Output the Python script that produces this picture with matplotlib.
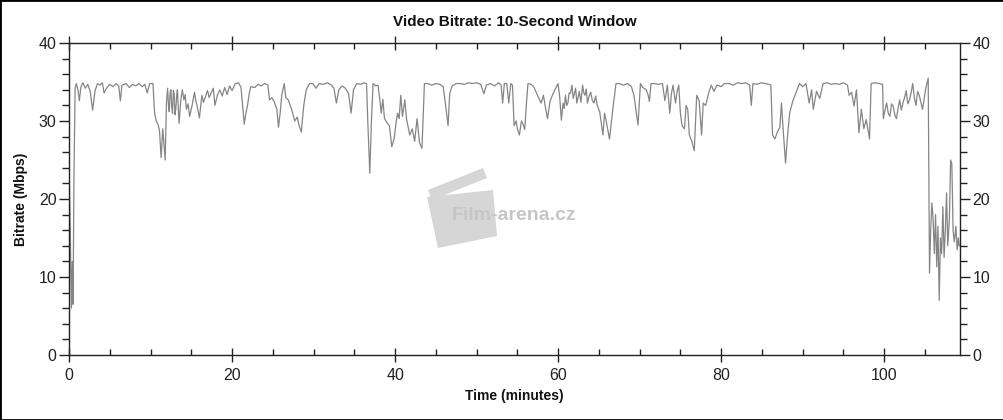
import matplotlib.pyplot as plt
from matplotlib.patches import Polygon, Rectangle
from matplotlib.ticker import MultipleLocator

plt.rcParams['font.family'] = ['Liberation Sans', 'DejaVu Sans']

title = 'Video Bitrate: 10-Second Window'
x_label = 'Time (minutes)'
y_label = 'Bitrate (Mbps)'
x_ticks = [0, 20, 40, 60, 80, 100]
y_ticks = [0, 10, 20, 30, 40]

# readings, minutes / Mbps
time_min = [
    0.0, 0.15, 0.3, 0.4, 0.5, 0.6, 0.75, 0.9,
    1.1, 1.27, 1.45, 1.7, 2.0, 2.3, 2.6, 2.9, 3.2, 3.5, 3.8, 4.1, 4.3, 4.6, 5.0, 5.4, 5.8, 6.1,
    6.3, 6.5, 7.0, 7.4, 7.8, 8.2, 8.6, 9.0, 9.3, 9.6, 9.9, 10.3,
    10.5, 10.7, 10.9, 11.1, 11.3, 11.5, 11.65, 11.8, 11.95, 12.1, 12.2, 12.3, 12.4, 12.5, 12.6,
    12.7, 12.8, 12.9, 13.0, 13.1, 13.2, 13.3, 13.5, 13.7, 13.9, 14.1, 14.25, 14.4, 14.6, 14.8,
    15.1, 15.4, 15.55, 15.7, 15.85, 16.0, 16.3, 16.5, 16.7, 17.0, 17.2, 17.4, 17.7, 17.9, 18.2,
    18.5, 18.8, 19.1, 19.4, 19.7, 20.0, 20.4, 20.8, 21.1, 21.3, 21.5, 21.7, 21.9, 22.1, 22.3,
    22.8, 23.2, 23.6, 24.0, 24.4, 24.6, 24.9, 25.2, 25.5, 25.7, 25.9, 26.1, 26.4, 26.6, 26.9,
    27.3, 27.7, 28.0, 28.2, 28.5, 28.8, 29.1, 29.5, 29.9, 30.3, 30.7, 31.2, 31.7, 32.2, 32.5,
    32.8, 33.1, 33.5, 33.9, 34.3, 34.6, 34.9, 35.3, 35.8, 36.2, 36.5,
    36.65, 36.9, 37.1, 37.3, 37.6, 37.9, 38.1, 38.3, 38.5, 38.7, 39.0, 39.3, 39.6, 39.9, 40.1,
    40.3, 40.5, 40.7, 40.9, 41.2, 41.4, 41.8, 42.1, 42.4, 42.7, 43.0, 43.3, 43.6, 44.0, 44.5,
    45.0, 45.5, 45.9, 46.2, 46.5, 46.7, 47.0, 47.5, 48.0, 48.5, 49.0, 49.5, 50.0, 50.5, 50.9,
    51.2, 51.7, 52.2, 52.7, 53.0, 53.2, 53.4, 53.7, 53.95, 54.2, 54.4, 54.6,
    54.85, 55.0, 55.25, 55.5, 55.7, 55.9, 56.1, 56.3, 56.7, 57.0, 57.3, 57.6, 57.9, 58.2, 58.4,
    58.7, 59.0, 59.3, 59.6, 60.0, 60.2, 60.4, 60.6, 60.75, 60.9, 61.05, 61.2, 61.35, 61.5, 61.7,
    61.85, 62.0, 62.15, 62.3, 62.45, 62.6, 62.8, 63.0, 63.15, 63.3, 63.45, 63.6, 63.8, 64.0,
    64.2, 64.4, 64.6, 64.8, 65.1, 65.5, 65.7, 66.0, 66.3, 66.6, 66.8, 67.1, 67.5,
    68.0, 68.5, 69.0, 69.3, 69.6, 69.8, 70.1, 70.4, 70.8, 71.0, 71.2, 71.4, 71.8, 72.3, 72.8,
    73.1,
    73.4, 73.7, 73.9, 74.1, 74.4, 74.6, 74.8, 75.0, 75.2, 75.5, 75.7, 75.9, 76.1, 76.4, 76.7,
    77.0, 77.3, 77.6, 77.8, 78.1, 78.5, 78.8, 79.1, 79.5, 80.0, 80.4, 81.0, 81.5, 82.0, 82.5,
    83.0, 83.5, 83.7, 83.9, 84.4, 84.9, 85.4, 85.9, 86.1, 86.3, 86.6, 86.9, 87.2, 87.4, 87.6,
    87.9, 88.1, 88.4, 88.8, 89.1, 89.6, 90.0, 90.4, 90.8, 91.1, 91.3, 91.7,
    92.1, 92.5, 93.0, 93.5, 94.0, 94.5, 95.0, 95.5, 95.7, 96.0, 96.3, 96.6, 96.9, 97.2, 97.5,
    97.8, 98.2, 98.4, 98.9, 99.4, 99.8, 99.9, 100.1, 100.3, 100.5, 100.7, 100.9, 101.1, 101.3,
    101.5, 101.7, 101.9, 102.1, 102.3, 102.5, 102.7, 102.9, 103.1, 103.3, 103.5, 103.7, 103.9,
    104.1, 104.3, 104.5, 104.7, 104.9, 105.1, 105.4,
    105.56, 105.7, 105.85, 106.0, 106.15, 106.3, 106.45, 106.6, 106.75, 106.9, 107.05, 107.2,
    107.35, 107.5, 107.65, 107.8, 108.0, 108.15, 108.3, 108.45, 108.6, 108.8, 108.95, 109.1,
    109.2,
]
bitrate = [
    24.5, 16.0, 6.0, 12.0, 6.5, 22.0, 34.2, 34.8,
    34.0, 32.6, 34.3, 34.9, 34.2, 34.7, 33.8, 31.4, 33.9, 34.8, 34.6, 34.9, 33.6, 34.2, 34.7, 34.4, 34.8, 34.5,
    32.6, 34.6, 34.8, 34.3, 34.7, 34.5, 34.8, 34.4, 34.7, 33.6, 34.8, 34.8,
    31.0, 30.0, 29.6, 28.8, 25.3, 29.0, 27.0, 25.0, 32.3, 34.2, 32.0, 31.2, 33.6, 34.0, 31.8,
    31.0, 33.9, 33.5, 30.8, 31.5, 33.2, 34.0, 29.7, 32.5, 34.0, 32.7, 33.4, 31.5, 32.2, 30.6,
    32.0, 33.7, 32.6, 32.0, 31.2, 30.4, 33.3, 32.4, 33.0, 33.9, 33.0, 33.5, 34.2, 32.0, 33.3,
    34.0, 33.2, 34.3, 33.4, 34.5, 33.9, 34.8, 34.9, 34.3, 32.0, 29.6, 31.0, 32.0, 33.5, 34.4,
    34.3, 34.7, 34.5, 34.8, 34.6, 32.7, 33.0, 32.4, 31.5, 29.2, 31.0, 33.3, 34.8, 33.0, 32.7,
    31.5, 30.0, 30.5, 29.5, 28.6, 32.0, 34.0, 34.8, 34.8, 34.2, 34.8, 34.7, 34.9, 34.6, 34.2,
    32.3, 34.0, 34.5, 34.2, 33.5, 31.0, 34.0, 34.8, 34.7, 34.9, 34.8,
    30.0, 23.3, 30.0, 34.8, 34.5, 34.6, 33.0, 31.0, 32.8, 30.3, 29.8, 29.4, 26.7, 27.8, 29.6,
    31.0, 30.3, 33.3, 30.6, 32.7, 30.3, 28.2, 29.0, 27.4, 30.3, 27.2, 26.5, 34.8, 34.8, 34.6,
    34.8, 34.7, 34.4, 32.0, 29.4, 33.5, 34.5, 34.8, 34.8, 34.7, 34.9, 34.8, 34.9, 34.7, 33.5,
    34.6, 34.8, 34.5, 34.9, 34.6, 32.3, 34.8, 34.8, 32.3, 34.8, 34.6, 29.4,
    30.0, 29.0, 28.2, 30.0, 29.6, 28.9, 32.0, 34.8, 34.7, 34.4, 33.7, 33.0, 32.3, 33.3, 32.0,
    30.3, 32.5, 33.3, 34.0, 34.8, 33.0, 30.1, 32.3, 31.6, 33.3, 32.0, 32.3, 33.6, 33.5, 34.6,
    32.9, 33.5, 34.2, 32.3, 33.0, 33.8, 32.4, 34.6, 33.6, 33.3, 34.1, 32.3, 33.2, 33.7,
    32.6, 32.3, 33.2, 32.0, 31.2, 28.2, 31.0, 29.4, 27.7, 30.5, 32.3, 34.8, 34.8,
    34.6, 34.8, 34.4, 33.3, 31.0, 29.5, 34.8, 34.3, 34.0, 33.5, 32.5, 34.8, 34.8, 34.7, 34.8,
    32.6,
    34.6, 31.0, 33.5, 34.6, 32.3, 33.8, 34.6, 31.0, 29.4, 29.0, 32.0, 31.5, 28.2, 27.4, 26.2,
    33.3, 32.6, 28.2, 32.3, 32.0, 33.7, 34.6, 33.8, 34.6, 34.4, 34.8, 34.8, 34.6, 34.9, 34.8,
    34.9, 34.6, 32.0, 34.8, 34.7, 34.9, 34.8, 34.7, 34.6, 28.2, 27.7, 28.6, 29.2, 32.3, 29.0,
    24.6, 27.5, 31.0, 32.6, 33.4, 34.8, 34.4, 34.8, 32.3, 34.0, 31.5, 33.8,
    32.9, 34.8, 34.9, 34.7, 34.8, 34.7, 34.9, 34.6, 33.3, 33.7, 31.9, 34.0, 28.5, 31.5, 29.0,
    30.2, 27.7, 34.8, 34.9, 34.8, 34.7, 30.3, 31.4, 32.3, 31.0, 30.6, 32.2, 31.9, 30.8,
    30.3, 31.6, 32.7, 31.4, 32.3, 33.0, 33.9, 32.2, 32.7, 33.6, 34.8, 33.0, 32.0,
    33.8, 33.3, 32.4, 31.5, 32.8, 34.2, 35.5,
    10.5, 16.0, 19.5, 17.5, 13.0, 18.0, 11.3, 16.5, 7.0, 15.0, 13.0, 19.0,
    12.5, 16.0, 20.8, 14.0, 17.5, 25.0, 24.5, 16.0, 14.5, 16.5, 13.5, 15.0,
    14.0,
]

fig = plt.figure(figsize=(10.04, 4.2), dpi=100)
ax = fig.add_axes([69 / 1004, 65 / 420, 891 / 1004, 312 / 420])

ax.plot(time_min, bitrate, color='#858585', lw=0.9)

ax.set_xlim(0, 109.3)
ax.set_ylim(0, 40)
ax.set_xticks(x_ticks)
ax.set_yticks(y_ticks)
ax.xaxis.set_minor_locator(MultipleLocator(5))
ax.yaxis.set_minor_locator(MultipleLocator(2))

for s in ax.spines.values():
    s.set_color('#222222')
    s.set_linewidth(1.0)

ax.tick_params(axis='x', which='major', direction='inout', length=10, width=1,
               top=True, labelsize=11.5, colors='#222222', pad=4)
ax.tick_params(axis='x', which='minor', direction='in', length=4, width=1,
               top=True, colors='#222222')
ax.tick_params(axis='y', which='major', direction='out', length=7, width=1,
               right=True, labelright=True, labelsize=11.5, colors='#222222', pad=2)
ax.tick_params(axis='y', which='minor', direction='out', length=5, width=1,
               right=True, colors='#222222')

ax.set_title(title, fontsize=11, fontweight='bold', pad=12, color='#111111')
ax.set_xlabel(x_label, fontsize=10, fontweight='bold', labelpad=5, color='#111111')
ax.set_ylabel(y_label, fontsize=10, fontweight='bold', labelpad=8, color='#111111')

# watermark: clapperboard + site name, in figure pixels (y from top)
def px(pts):
    return [(x / 1004, 1 - y / 420) for x, y in pts]

body = Polygon(px([(427, 197), (493, 190), (497, 236), (438, 248)]),
               closed=True, transform=fig.transFigure, fc='#d6d6d6', ec='none', zorder=0)
stick = Polygon(px([(428, 190), (483, 168), (487, 178), (432, 200)]),
                closed=True, transform=fig.transFigure, fc='#d6d6d6', ec='none', zorder=0)
fig.patches.extend([body, stick])
fig.text(514 / 1004, 1 - 216 / 420, 'Film-arena.cz', ha='center', va='center',
         fontsize=14, fontweight='bold', color='#c6c6c6', zorder=1)

fig.patches.append(Rectangle((0, 0), 1, 1, transform=fig.transFigure, fill=False,
                             ec='black', lw=2))

fig.savefig('out.png', dpi=100)
